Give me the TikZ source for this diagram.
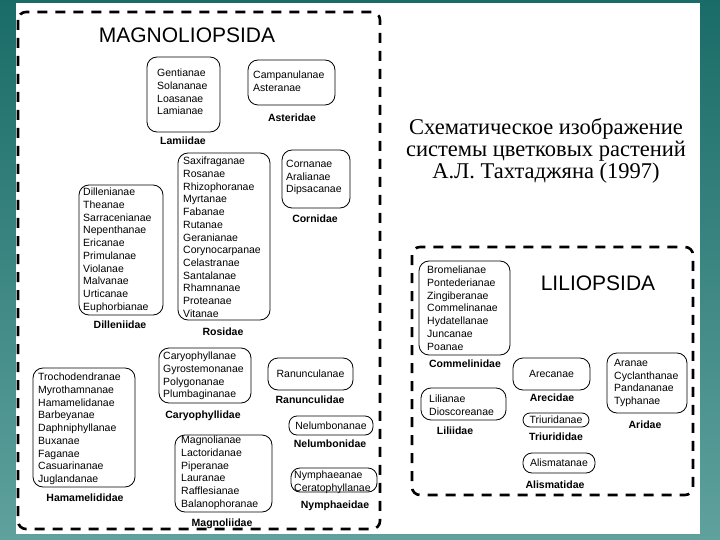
\documentclass[tikz,border=0pt]{standalone}
\usepackage{fontspec}
\setmainfont{Liberation Sans}
\newfontfamily\rusfont{Liberation Serif}
\definecolor{tealdark}{HTML}{1A6C68}
\definecolor{teallight}{HTML}{5FA19D}
\begin{document}
\begin{tikzpicture}[x=1pt,y=-1pt,
  fbox/.style={draw, line width=0.8pt, rounded corners=10pt, inner sep=0pt},
  ftext/.style={anchor=north west, inner sep=0pt, align=left, font=\fontsize{10.5}{12.7}\selectfont},
  fone/.style={inner sep=0pt, font=\fontsize{10.5}{12.7}\selectfont},
  flabel/.style={inner sep=0pt, font=\bfseries\fontsize{10.5}{12}\selectfont, text height=7.6pt, text depth=0pt},
  ftitle/.style={inner sep=0pt, font=\fontsize{21}{24}\selectfont},
  classbox/.style={draw, line width=2.6pt, dash pattern=on 10pt off 8pt, rounded corners=8pt}
]
\useasboundingbox (0,0) rectangle (720,540);
% background
\shade[top color=tealdark, bottom color=teallight] (0,0) rectangle (720,540);
\fill[white] (16,3) rectangle (700,534);

% class frames
\draw[classbox] (18,12) rectangle (380,529);
\draw[classbox] (412,247) rectangle (693,495);

\node[ftitle] (magT) at (187,35) {MAGNOLIOPSIDA};
\node[ftitle] (lilT) at (598,283) {LILIOPSIDA};

% caption
\node[inner sep=0pt, align=center, font=\rusfont\fontsize{22.5}{22}\selectfont] (cap) at (546,151)
  {Схематическое изображение\\системы цветковых растений\\А.Л. Тахтаджяна (1997)};

% Lamiidae
\node[fbox, minimum width=73pt, minimum height=75pt] (lamB) at (183.5,94.5) {};
\node[ftext] (lamT) at (157,69) {Gentianae\\Solananae\\Loasanae\\Lamianae};
\node[flabel] (lamL) at (183,141) {Lamiidae};

% Asteridae
\node[fbox, minimum width=87pt, minimum height=45pt] (astB) at (291.5,82.5) {};
\node[ftext] (astT) at (253,71) {Campanulanae\\Asteranae};
\node[flabel] (astL) at (292,118) {Asteridae};

% Cornidae
\node[fbox, minimum width=68pt, minimum height=58pt] (corB) at (316,179) {};
\node[ftext] (corT) at (286,160) {Cornanae\\Aralianae\\Dipsacanae};
\node[flabel] (corL) at (315,219) {Cornidae};

% Rosidae
\node[fbox, minimum width=92pt, minimum height=167pt] (rosB) at (224,236.5) {};
\node[ftext] (rosT) at (183,157) {Saxifraganae\\Rosanae\\Rhizophoranae\\Myrtanae\\Fabanae\\Rutanae\\Geranianae\\Corynocarpanae\\Celastranae\\Santalanae\\Rhamnanae\\Proteanae\\Vitanae};
\node[flabel] (rosL) at (223,332) {Rosidae};

% Dilleniidae
\node[fbox, minimum width=84pt, minimum height=130pt] (dilB) at (121,250) {};
\node[ftext] (dilT) at (83,188) {Dillenianae\\Theanae\\Sarracenianae\\Nepenthanae\\Ericanae\\Primulanae\\Violanae\\Malvanae\\Urticanae\\Euphorbianae};
\node[flabel] (dilL) at (120,325) {Dilleniidae};

% Hamamelididae
\node[fbox, minimum width=102pt, minimum height=119pt] (hamB) at (84,427.5) {};
\node[ftext] (hamT) at (38,373) {Trochodendranae\\Myrothamnanae\\Hamamelidanae\\Barbeyanae\\Daphniphyllanae\\Buxanae\\Faganae\\Casuarinanae\\Juglandanae};
\node[flabel] (hamL) at (85,498) {Hamamelididae};

% Caryophyllidae
\node[fbox, minimum width=92pt, minimum height=55pt] (carB) at (205,375.5) {};
\node[ftext] (carT) at (163,352) {Caryophyllanae\\Gyrostemonanae\\Polygonanae\\Plumbaginanae};
\node[flabel] (carL) at (203,415) {Caryophyllidae};

% Ranunculidae
\node[fbox, minimum width=85pt, minimum height=32pt] (ranB) at (310.5,374) {};
\node[fone] (ranT) at (310.5,374) {Ranunculanae};
\node[flabel] (ranL) at (310,400) {Ranunculidae};

% Nelumbonidae
\node[fbox, rounded corners=8pt, minimum width=84pt, minimum height=19pt] (nelB) at (331,425.5) {};
\node[fone] (nelT) at (331,425.5) {Nelumbonanae};
\node[flabel] (nelL) at (330,444) {Nelumbonidae};

% Magnoliidae
\node[fbox, minimum width=97pt, minimum height=77pt] (magB) at (223.5,473.5) {};
\node[ftext] (magTx) at (181,436) {Magnolianae\\Lactoridanae\\Piperanae\\Lauranae\\Rafflesianae\\Balanophoranae};
\node[flabel] (magL) at (222,523) {Magnoliidae};

% Nymphaeidae
\node[fbox, rounded corners=9pt, minimum width=86pt, minimum height=24pt] (nymB) at (334,480) {};
\node[ftext] (nymT) at (294,471) {Nymphaeanae\\Ceratophyllanae};
\node[flabel] (nymL) at (335,505) {Nymphaeidae};

% Commelinidae
\node[fbox, minimum width=91pt, minimum height=94pt] (comB) at (464.5,308) {};
\node[ftext] (comT) at (427,266) {Bromelianae\\Pontederianae\\Zingiberanae\\Commelinanae\\Hydatellanae\\Juncanae\\Poanae};
\node[flabel] (comL) at (465,364) {Commelinidae};

% Arecidae
\node[fbox, minimum width=77pt, minimum height=32pt] (areB) at (551.5,374) {};
\node[fone] (areT) at (551.5,374) {Arecanae};
\node[flabel] (areL) at (552,398) {Arecidae};

% Aridae
\node[fbox, minimum width=80pt, minimum height=60pt] (ariB) at (647,383) {};
\node[ftext] (ariT) at (614,359) {Aranae\\Cyclanthanae\\Pandananae\\Typhanae};
\node[flabel] (ariL) at (645,425) {Aridae};

% Liliidae
\node[fbox, minimum width=85pt, minimum height=32pt] (lilB) at (463.5,404) {};
\node[ftext] (lilTx) at (429,395) {Lilianae\\Dioscoreanae};
\node[flabel] (lilL) at (455,431) {Liliidae};

% Triurididae
\node[fbox, rounded corners=7pt, minimum width=66pt, minimum height=14pt] (triB) at (556,420) {};
\node[fone] (triT) at (556,420) {Triuridanae};
\node[flabel] (triL) at (556,437) {Triurididae};

% Alismatidae
\node[fbox, rounded corners=9pt, minimum width=72pt, minimum height=20pt] (aliB) at (559,463) {};
\node[fone] (aliT) at (559,463) {Alismatanae};
\node[flabel] (aliL) at (555,485) {Alismatidae};
\end{tikzpicture}
\end{document}
